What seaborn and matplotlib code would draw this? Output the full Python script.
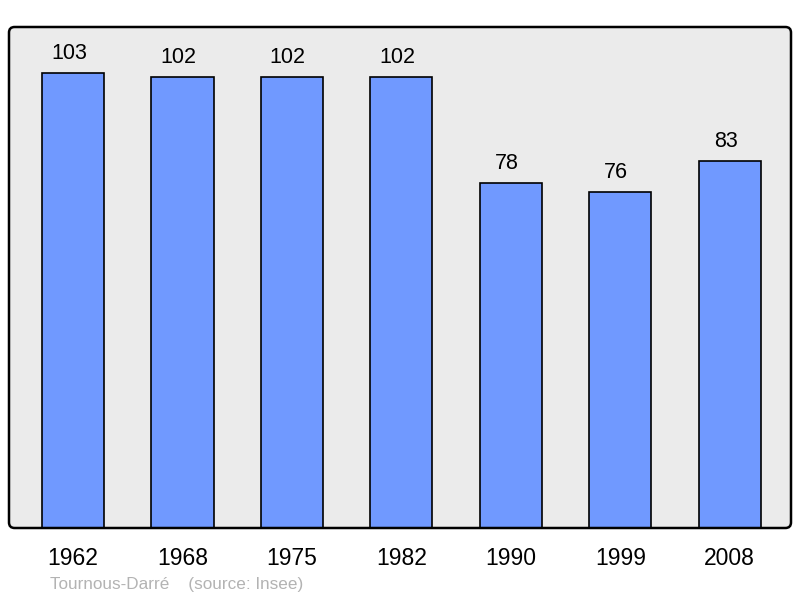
import pandas as pd
import matplotlib
matplotlib.use("Agg")
import matplotlib.pyplot as plt
from matplotlib.patches import FancyBboxPatch
import seaborn as sns

years = ["1962", "1968", "1975", "1982", "1990", "1999", "2008"]
population = [103, 102, 102, 102, 78, 76, 83]
footer = "Tournous-Darré    (source: Insee)"

df = pd.DataFrame({"year": years, "pop": population})

sns.set_style("white")
plt.rcParams["font.family"] = ["Liberation Sans", "DejaVu Sans"]

fig = plt.figure(figsize=(8, 5.98), dpi=100)
box = [9 / 800, 70 / 598, 782 / 800, 501 / 598]
ax = fig.add_axes(box)
ax.patch.set_visible(False)

sns.barplot(x="year", y="pop", data=df, color="#7099ff", saturation=1,
            width=0.567, edgecolor="black", linewidth=1.2, ax=ax, zorder=2)

# value labels, slightly left of the bar centre like the original
for p in ax.patches:
    h = p.get_height()
    ax.annotate(f"{h:.0f}", (p.get_x() + p.get_width() / 2, h),
                xytext=(-3, 6.5), textcoords="offset points",
                ha="center", va="bottom", fontsize=15.5, color="black")

ax.set_xlim(-0.585, 6.56)
ax.set_ylim(0, 113.4)
ax.set_yticks([])
ax.set_xlabel("")
ax.set_ylabel("")
ax.tick_params(axis="x", length=0, pad=14, labelsize=16.5, labelcolor="black")
for s in ax.spines.values():
    s.set_visible(False)

# rounded frame
asp = 800 / 598
bg = FancyBboxPatch((box[0], box[1]), box[2], box[3],
                    boxstyle="round,pad=0,rounding_size=0.007",
                    mutation_aspect=asp, transform=fig.transFigure,
                    facecolor="#ebebeb", edgecolor="none", zorder=0, clip_on=False)
frame = FancyBboxPatch((box[0], box[1]), box[2], box[3],
                       boxstyle="round,pad=0,rounding_size=0.007",
                       mutation_aspect=asp, transform=fig.transFigure,
                       facecolor="none", edgecolor="black", linewidth=1.8,
                       zorder=5, clip_on=False)
ax.add_artist(bg)
ax.add_artist(frame)

fig.text(50 / 800, 1 - 584 / 598, footer, fontsize=12.3, color="#b3b3b3",
         va="center", ha="left")

fig.savefig("out.png", dpi=100)
